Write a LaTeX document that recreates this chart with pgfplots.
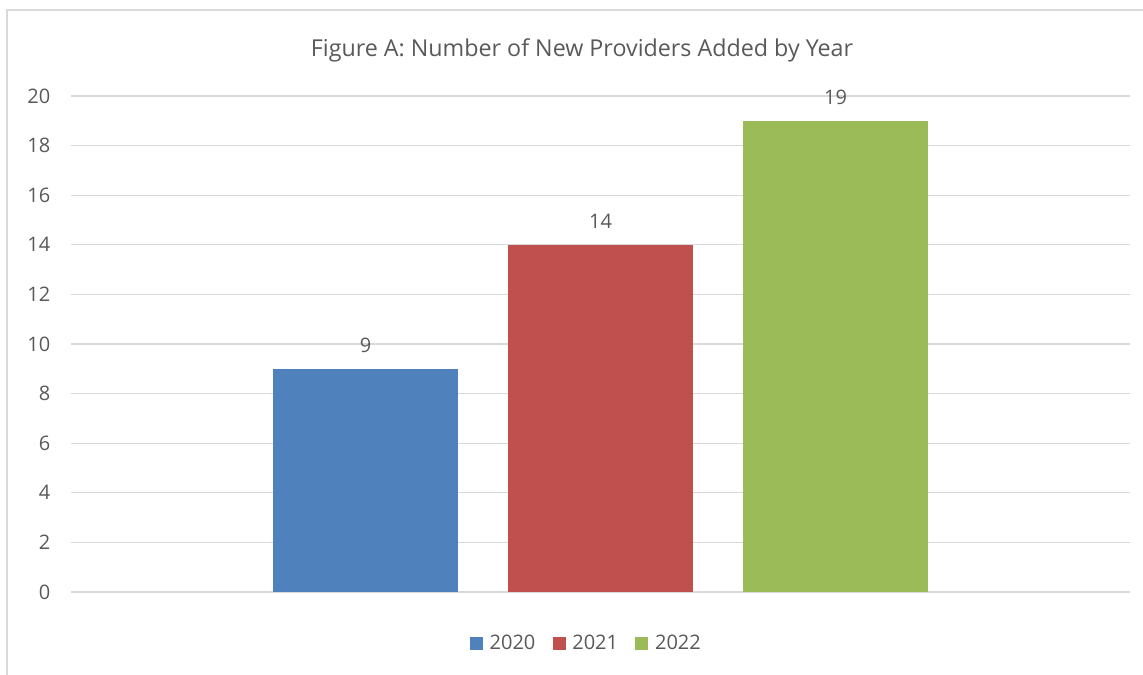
\documentclass[border=0pt]{standalone}
\usepackage{pgfplots}
\pgfplotsset{compat=1.18}
\usepackage{fontspec}
\setmainfont{Open Sans}
\definecolor{cblue}{HTML}{4F81BD}
\definecolor{cred}{HTML}{C0504D}
\definecolor{cgreen}{HTML}{9BBB59}
\definecolor{cgrid}{HTML}{D9D9D9}
\definecolor{ctext}{HTML}{595959}
\begin{document}
\begin{tikzpicture}
\useasboundingbox (0,0) rectangle (857.25pt,506.25pt);
\draw[cgrid, line width=1.2pt] (5.25pt,0) -- (5.25pt,498.75pt) -- (857.25pt,498.75pt);
\node[anchor=base, text=ctext, font=\fontsize{17.45pt}{20pt}\selectfont, inner sep=0pt] at (436.5pt,463.5pt) {Figure A: Number of New Providers Added by Year};
\begin{axis}[
  at={(53.25pt,62.25pt)}, anchor=south west,
  scale only axis, width=794.25pt, height=372pt,
  xmin=-1.253, xmax=3.253, ymin=0, ymax=20,
  ytick={0,2,...,20}, xtick=\empty,
  /pgf/number format/assume math mode=true,
  ymajorgrids, grid style={cgrid, line width=1pt},
  axis line style={draw=none},
  axis x line*=bottom,
  x axis line style={draw=cgrid, line width=1.2pt},
  major tick length=0pt,
  yticklabel style={text=ctext, font=\fontsize{15pt}{18pt}\selectfont, xshift=-12pt},
  ybar, clip=false,
  nodes near coords,
  nodes near coords style={text=ctext, font=\fontsize{15pt}{18pt}\selectfont, yshift=8.5pt},
  legend columns=3,
  legend style={draw=none, at={(0.487,-0.103)}, anchor=center, font=\fontsize{15pt}{18pt}\selectfont, text=ctext,
    /tikz/every even column/.append style={column sep=11pt},
    /tikz/every odd column/.append style={column sep=3pt}},
  legend image code/.code={\fill[#1] (0pt,-4.875pt) rectangle (9.75pt,4.875pt);},
]
\addplot[fill=cblue, draw=none, bar width=0.787, bar shift=0pt] coordinates {(0,9)};
\addlegendentry{2020}
\addplot[fill=cred, draw=none, bar width=0.787, bar shift=0pt] coordinates {(1,14)};
\addlegendentry{2021}
\addplot[fill=cgreen, draw=none, bar width=0.787, bar shift=0pt] coordinates {(2,19)};
\addlegendentry{2022}
\end{axis}
\end{tikzpicture}
\end{document}
